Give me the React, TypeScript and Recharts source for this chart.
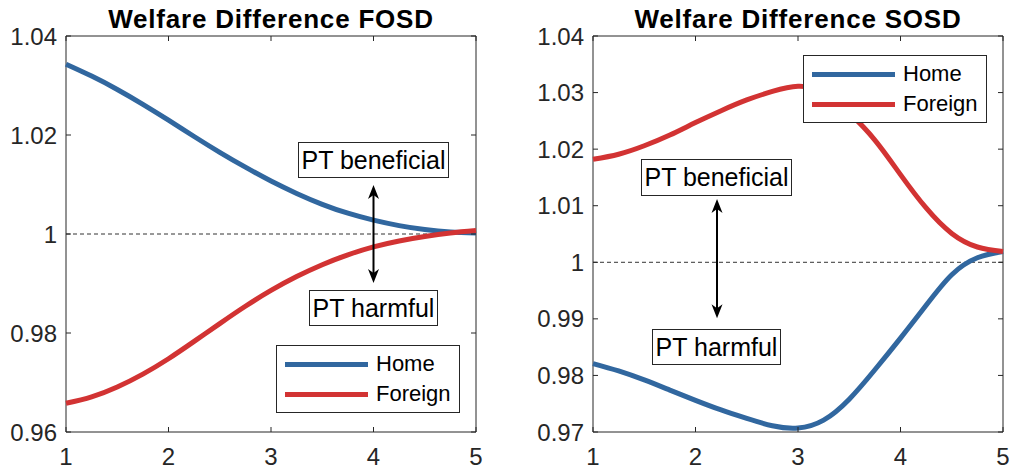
import React from "react";
import { LineChart, Line, XAxis, YAxis, ReferenceLine, ReferenceArea } from "recharts";

// x grid shared by both panels
const X = [1, 1.25, 1.5, 1.75, 2, 2.25, 2.5, 2.75, 3, 3.25, 3.5, 3.75, 4, 4.25, 4.5, 4.75, 5];

const FOSD_HOME = [1.0343, 1.0319, 1.0292, 1.0262, 1.023, 1.0197, 1.0165, 1.0135, 1.0107, 1.0082, 1.006, 1.0042, 1.0028, 1.0017, 1.0009, 1.0004, 1.0002];
const FOSD_FOREIGN = [0.9658, 0.9671, 0.9691, 0.9717, 0.9748, 0.9783, 0.9819, 0.9854, 0.9886, 0.9914, 0.9938, 0.9958, 0.9974, 0.9986, 0.9995, 1.0002, 1.0007];

const SOSD_HOME = [0.9821, 0.9808, 0.9792, 0.9774, 0.9756, 0.9739, 0.9724, 0.9711, 0.9707, 0.9721, 0.9758, 0.981, 0.9866, 0.9924, 0.9978, 1.0008, 1.0019];
const SOSD_FOREIGN = [1.0182, 1.0191, 1.0206, 1.0225, 1.0247, 1.0268, 1.0287, 1.0302, 1.0311, 1.03, 1.0264, 1.0216, 1.0155, 1.0096, 1.0051, 1.0027, 1.0019];

const X_TICKS = [1, 2, 3, 4, 5];
const FOSD_Y_TICKS = [0.96, 0.98, 1, 1.02, 1.04];
const SOSD_Y_TICKS = [0.97, 0.98, 0.99, 1, 1.01, 1.02, 1.03, 1.04];

// annotation arrows (data coords)
const FOSD_ARROW = { x: 4, top: 1.0099, bottom: 0.9901 };
const SOSD_ARROW = { x: 2.21, top: 1.0112, bottom: 0.9901 };

const BLUE = "#31679f";
const RED = "#d23333";
const INK = "#262626";
const FONT = '"Liberation Sans", Arial, Helvetica, sans-serif';

const PLOT_TOP = 36;
const PLOT_BOTTOM = 432;
const H = 470;

const toRows = (home: number[], foreign: number[]) =>
  X.map((x, i) => ({ x, home: home[i], foreign: foreign[i] }));

function ArrowShape(p: any) {
  const x = p.x1;
  const top = Math.min(p.y1, p.y2);
  const bot = Math.max(p.y1, p.y2);
  return (
    <g>
      <line x1={x} x2={x} y1={top + 8} y2={bot - 8} stroke="#000" strokeWidth={2} />
      <path d={`M${x},${top} L${x - 5.5},${top + 14} L${x},${top + 10} L${x + 5.5},${top + 14} Z`} fill="#000" />
      <path d={`M${x},${bot} L${x - 5.5},${bot - 14} L${x},${bot - 10} L${x + 5.5},${bot - 14} Z`} fill="#000" />
    </g>
  );
}

type Box = { text: string; x: number; y: number; w: number; h: number };

function Panel({
  left, width, plotLeft, plotRight, title, data, yDomain, yTicks, arrow, boxes, legend,
}: {
  left: number; width: number; plotLeft: number; plotRight: number; title: string;
  data: any[]; yDomain: [number, number]; yTicks: number[];
  arrow: { x: number; top: number; bottom: number };
  boxes: Box[]; legend: { x: number; y: number };
}) {
  const yTick = (p: any) => (
    <g>
      <line x1={plotLeft} x2={plotLeft + 5} y1={p.y} y2={p.y} stroke={INK} />
      <line x1={plotRight - 5} x2={plotRight} y1={p.y} y2={p.y} stroke={INK} />
      <text x={plotLeft - 9} y={p.y + 8.5} textAnchor="end" fontSize={24} fill={INK} fontFamily={FONT}>
        {String(p.payload.value)}
      </text>
    </g>
  );
  const xTick = (p: any) => (
    <g>
      <line x1={p.x} x2={p.x} y1={PLOT_BOTTOM - 5} y2={PLOT_BOTTOM} stroke={INK} />
      <line x1={p.x} x2={p.x} y1={PLOT_TOP} y2={PLOT_TOP + 5} stroke={INK} />
      <text x={p.x} y={465} textAnchor="middle" fontSize={24} fill={INK} fontFamily={FONT}>
        {String(p.payload.value)}
      </text>
    </g>
  );

  return (
    <div style={{ position: "absolute", left, top: 0, width, height: H }}>
      <div
        style={{
          position: "absolute", left: plotLeft - 40, width: plotRight - plotLeft + 80, top: 6,
          textAlign: "center", fontFamily: FONT, fontWeight: "bold", fontSize: 26, lineHeight: "26px",
          letterSpacing: 0.8, color: "#000", whiteSpace: "nowrap",
        }}
      >
        {title}
      </div>
      <LineChart
        width={width}
        height={H}
        data={data}
        margin={{ top: PLOT_TOP, right: width - plotRight, bottom: 8, left: plotLeft - 60 }}
      >
        <XAxis
          dataKey="x" type="number" domain={[1, 5]} ticks={X_TICKS} height={30}
          axisLine={false} tickLine={false} tick={xTick} interval={0}
        />
        <YAxis
          type="number" domain={yDomain} ticks={yTicks} width={60}
          axisLine={false} tickLine={false} tick={yTick} interval={0}
        />
        <ReferenceLine y={1} stroke="#333" strokeWidth={1} strokeDasharray="4 3" />
        <Line dataKey="home" type="natural" stroke={BLUE} strokeWidth={5} dot={false} isAnimationActive={false} />
        <Line dataKey="foreign" type="natural" stroke={RED} strokeWidth={5} dot={false} isAnimationActive={false} />
        <ReferenceArea x1={1} x2={5} y1={yDomain[0]} y2={yDomain[1]} fill="none" stroke={INK} strokeWidth={1} />
        <ReferenceLine
          segment={[{ x: arrow.x, y: arrow.top }, { x: arrow.x, y: arrow.bottom }]}
          shape={ArrowShape}
        />
      </LineChart>
      {boxes.map((b) => (
        <div
          key={b.text}
          style={{
            position: "absolute", left: b.x, top: b.y, width: b.w, height: b.h, boxSizing: "border-box",
            border: `1.5px solid ${INK}`, background: "#fff", display: "flex", alignItems: "center",
            justifyContent: "center", fontFamily: FONT, fontSize: 25, color: "#000", whiteSpace: "nowrap",
          }}
        >
          {b.text}
        </div>
      ))}
      <div
        style={{
          position: "absolute", left: legend.x, top: legend.y, width: 184, height: 68, boxSizing: "border-box",
          border: `1.5px solid ${INK}`, background: "#fff", padding: "3px 0 0 8px", fontFamily: FONT, fontSize: 22,
        }}
      >
        {[
          { name: "Home", color: BLUE },
          { name: "Foreign", color: RED },
        ].map((s) => (
          <div key={s.name} style={{ display: "flex", alignItems: "center", height: 30 }}>
            <span style={{ width: 83, height: 5, background: s.color, marginRight: 8 }} />
            <span>{s.name}</span>
          </div>
        ))}
      </div>
    </div>
  );
}

export default function App() {
  return (
    <div style={{ position: "absolute", left: 0, top: 0, width: 1011, height: H, background: "#fff" }}>
      <Panel
        left={0} width={500} plotLeft={66} plotRight={476}
        title="Welfare Difference FOSD"
        data={toRows(FOSD_HOME, FOSD_FOREIGN)}
        yDomain={[0.96, 1.04]} yTicks={FOSD_Y_TICKS}
        arrow={FOSD_ARROW}
        boxes={[
          { text: "PT beneficial", x: 298, y: 142, w: 151, h: 36 },
          { text: "PT harmful", x: 309, y: 290, w: 129, h: 36 },
        ]}
        legend={{ x: 276, y: 345 }}
      />
      <Panel
        left={520} width={491} plotLeft={73} plotRight={483}
        title="Welfare Difference SOSD"
        data={toRows(SOSD_HOME, SOSD_FOREIGN)}
        yDomain={[0.97, 1.04]} yTicks={SOSD_Y_TICKS}
        arrow={SOSD_ARROW}
        boxes={[
          { text: "PT beneficial", x: 121, y: 159, w: 151, h: 37 },
          { text: "PT harmful", x: 132, y: 329, w: 129, h: 36 },
        ]}
        legend={{ x: 283, y: 55 }}
      />
    </div>
  );
}
